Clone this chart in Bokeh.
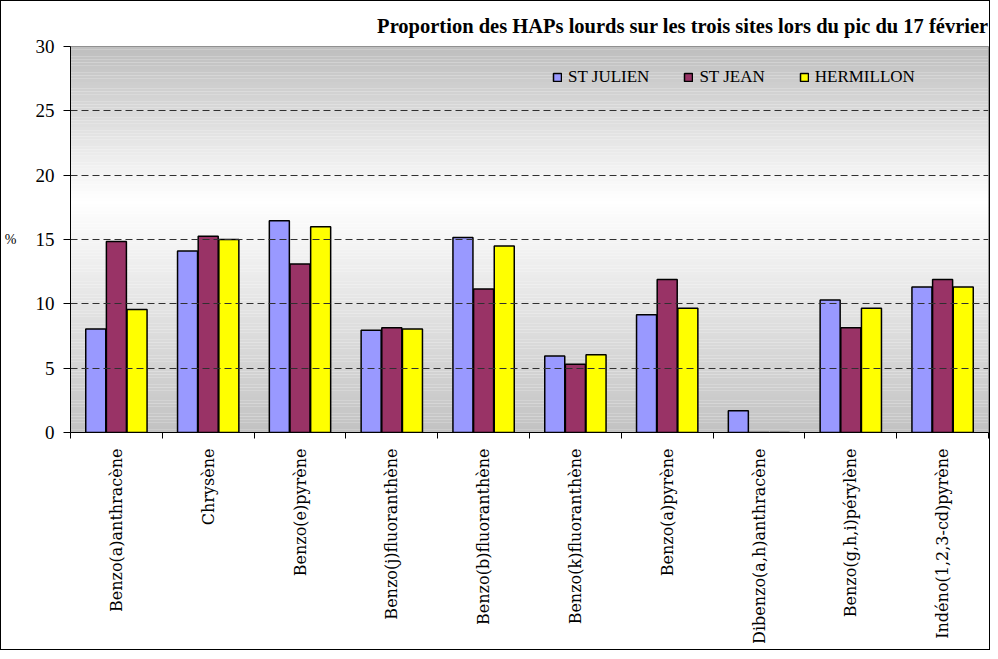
import math
from bokeh.plotting import figure
from bokeh.models import ColumnDataSource, FixedTicker, Legend, LegendItem, Range1d
from bokeh.transform import dodge
from bokeh.embed import file_html
from bokeh.resources import INLINE

categories = ["Benzo(a)anthracène", "Chrysène", "Benzo(e)pyrène", "Benzo(j)fluoranthène",
              "Benzo(b)fluoranthène", "Benzo(k)fluoranthène", "Benzo(a)pyrène",
              "Dibenzo(a,h)anthracène", "Benzo(g,h,i)pérylène", "Indéno(1,2,3-cd)pyrène"]
st_julien = [8.05, 14.1, 16.45, 7.95, 15.15, 5.95, 9.15, 1.7, 10.3, 11.3]
st_jean = [14.85, 15.25, 13.1, 8.15, 11.15, 5.3, 11.9, 0.0, 8.15, 11.9]
hermillon = [9.55, 15.0, 16.0, 8.05, 14.5, 6.05, 9.65, 0.0, 9.65, 11.3]
series_names = ["ST JULIEN", "ST JEAN", "HERMILLON"]
series_colors = ["#9999FF", "#993366", "#FFFF00"]
title_text = "Proportion des HAPs lourds sur les trois sites lors du pic du 17 février"
y_ticks = [0, 5, 10, 15, 20, 25, 30]

x_pos = [i + 0.5 for i in range(len(categories))]
src = ColumnDataSource(dict(x=x_pos, julien=st_julien, jean=st_jean, herm=hermillon))

p = figure(width=990, height=650, output_backend="svg", toolbar_location=None,
           x_range=Range1d(0, len(categories)), y_range=Range1d(0, 30),
           min_border_left=68, min_border_right=3, min_border_top=45, min_border_bottom=219)
p.styles = {"border": "1px solid #000000", "box-sizing": "border-box"}

# background gradient (top grey -> white -> bottom grey)
n = 120
for k in range(n):
    y0 = 30 * k / n
    y1 = 30 * (k + 1) / n
    ym = (y0 + y1) / 2
    if ym >= 18:
        t = (ym - 18) / 12
        g = int(round(255 - t * (255 - 190)))
    else:
        t = (18 - ym) / 18
        g = int(round(255 - t * (255 - 194)))
    col = "#%02x%02x%02x" % (g, g, g)
    p.quad(left=0, right=len(categories), bottom=y0, top=y1,
           fill_color=col, line_color=None, level="underlay")

p.background_fill_color = "#ffffff"
p.border_fill_color = "#ffffff"
p.outline_line_color = "#808080"
p.outline_line_width = 1

# grid lines
p.xgrid.visible = False
p.ygrid.ticker = FixedTicker(ticks=[5, 10, 15, 20, 25])
p.ygrid.grid_line_color = "#303030"
p.ygrid.grid_line_dash = "7 4"
p.ygrid.grid_line_width = 1
p.ygrid.level = "glyph"

fields = ["julien", "jean", "herm"]
offsets = [-0.225, 0.0, 0.225]
renderers = []
for f, off, c in zip(fields, offsets, series_colors):
    r = p.vbar(x=dodge("x", off), top=f, width=0.218, source=src,
               fill_color=c, line_color="#000000", line_width=1.5)
    renderers.append(r)

# axes
xa = p.xaxis[0]
xa.ticker = FixedTicker(ticks=x_pos, minor_ticks=list(range(len(categories) + 1)))
xa.major_label_overrides = {x: c for x, c in zip(x_pos, categories)}
xa.major_label_orientation = math.pi / 2
xa.major_tick_out = 0
xa.major_tick_in = 0
xa.minor_tick_out = 6
xa.minor_tick_in = 0
xa.major_label_standoff = 10
xa.major_label_text_font = "DejaVu Serif"
xa.major_label_text_font_size = "16px"
xa.major_label_text_color = "#000000"
xa.axis_line_color = "#000000"
xa.minor_tick_line_color = "#000000"

ya = p.yaxis[0]
ya.ticker = FixedTicker(ticks=y_ticks)
ya.major_tick_out = 7
ya.major_tick_in = 0
ya.minor_tick_out = 0
ya.minor_tick_in = 0
ya.major_label_text_font = "Liberation Serif"
ya.major_label_text_font_size = "19px"
ya.major_label_text_color = "#000000"
ya.major_label_standoff = 9
ya.axis_line_color = "#000000"
ya.major_tick_line_color = "#000000"
ya.axis_label = "%"
ya.axis_label_orientation = "horizontal"
ya.axis_label_text_font = "Liberation Serif"
ya.axis_label_text_font_size = "14px"
ya.axis_label_text_font_style = "normal"
ya.axis_label_text_color = "#000000"
ya.axis_label_standoff = 16

# title
p.title.text = title_text
p.title.align = "right"
p.title.text_font = "Liberation Serif"
p.title.text_font_size = "20.5px"
p.title.text_font_style = "bold"
p.title.text_color = "#000000"
p.title.standoff = 19

legend = Legend(items=[LegendItem(label=nm, renderers=[r]) for nm, r in zip(series_names, renderers)],
                orientation="horizontal", location=(482, 345))
legend.background_fill_alpha = 0
legend.border_line_color = None
legend.label_text_font = "Liberation Serif"
legend.label_text_font_size = "17px"
legend.label_text_color = "#000000"
legend.glyph_width = 10
legend.glyph_height = 10
legend.spacing = 34
legend.padding = 0
legend.margin = 0
legend.label_standoff = 6
p.add_layout(legend, "center")

open("out.html", "w").write(file_html(p, INLINE))
